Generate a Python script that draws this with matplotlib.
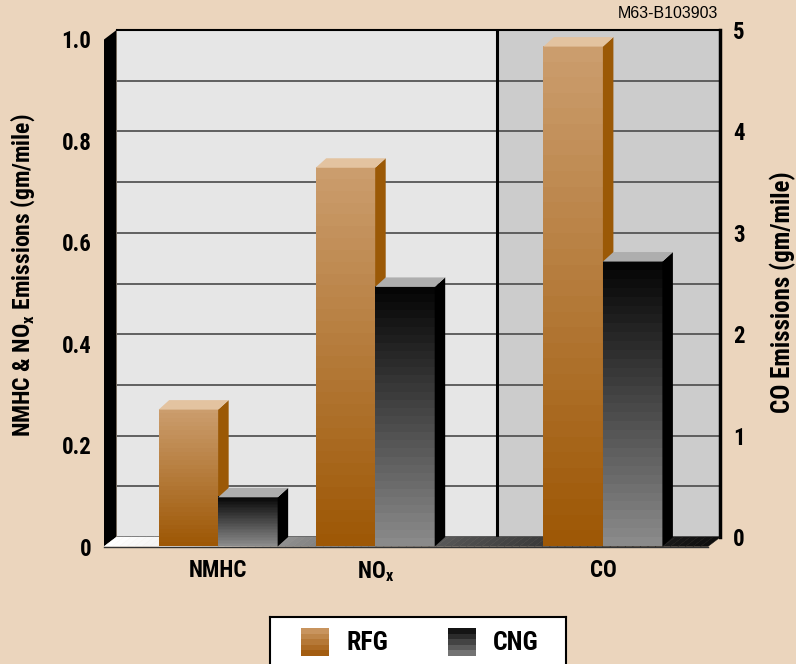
import numpy as np
import matplotlib
matplotlib.use('Agg')
import matplotlib.pyplot as plt
from matplotlib import font_manager as fm
from matplotlib.patches import Polygon

# pick a narrow bold face that is installed
candidates = ['Liberation Sans Narrow', 'Roboto Condensed', 'Archivo Narrow', 'Barlow Semi Condensed',
              'Barlow Condensed', 'Saira SemiCondensed', 'DejaVu Sans']
bold_faces = {f.name for f in fm.fontManager.ttflist if f.weight in (700, 'bold')}
NARROW = next(c for c in candidates if c in bold_faces)

plt.rcParams['font.family'] = [NARROW, 'DejaVu Sans']
plt.rcParams['font.weight'] = 'bold'
plt.rcParams['mathtext.fontset'] = 'custom'
plt.rcParams['mathtext.rm'] = NARROW + ':bold'
plt.rcParams['mathtext.bf'] = NARROW + ':bold'

# data (gm/mile)
categories = ['NMHC', r'NO$_\mathregular{x}$', 'CO']
series = ['RFG', 'CNG']
rfg_vals = [0.27, 0.747]      # NMHC, NOx  -> left axis
cng_vals = [0.097, 0.512]
rfg_co = 4.93                 # CO -> right axis
cng_co = 2.81
left_ticks = [0, 0.2, 0.4, 0.6, 0.8, 1.0]
left_labels = ['0', '0.2', '0.4', '0.6', '0.8', '1.0']
right_ticks = [0, 1, 2, 3, 4, 5]

# layout
W, H = 796, 664
BG = '#EBD5BD'
centers = [1.89, 4.49, 8.26]
bar_w = 0.985
divider = 6.30
WALL = (12.5, 9.5)
BAR = (10.5, 9.5)
RFG_TOP, RFG_BOT, RFG_SIDE, RFG_CAP = (203, 157, 109), (158, 88, 6), '#9B5906', '#E3C3A0'
CNG_TOP, CNG_BOT, CNG_SIDE, CNG_CAP = (5, 5, 5), (138, 138, 138), '#000000', '#AEAEAE'


def px_box(x, ytop, w, h):
    return [x / W, (H - ytop - h) / H, w / W, h / H]


def offset(axis, dx_px, dy_px):
    x0, x1 = axis.get_xlim()
    y0, y1 = axis.get_ylim()
    return dx_px * (x1 - x0) / axis.bbox.width, dy_px * (y1 - y0) / axis.bbox.height


def gradient(top, bottom, n):
    t = np.linspace(0, 1, n)[:, None, None]
    return ((1 - t) * np.array(top) + t * np.array(bottom)) / 255.0


def bar3d(axis, x0, value, top_rgb, bot_rgb, side, cap, z):
    dx, dy = offset(axis, *BAR)
    x1 = x0 + bar_w
    axis.imshow(gradient(top_rgb, bot_rgb, 32), extent=(x0, x1, 0, value),
                aspect='auto', interpolation='nearest', zorder=z)
    axis.add_patch(Polygon([(x1, 0), (x1, value), (x1 + dx, value + dy), (x1 + dx, dy)],
                           fc=side, ec='none', zorder=z, clip_on=False))
    axis.add_patch(Polygon([(x0, value), (x1, value), (x1 + dx, value + dy), (x0 + dx, value + dy)],
                           fc=cap, ec='none', zorder=z, clip_on=False))


fig = plt.figure(figsize=(W / 100, H / 100), dpi=100, facecolor=BG)

# back wall
ax_back = fig.add_axes(px_box(116.5, 30, 604, 507), zorder=0)
ax_back.set_xlim(0, 10)
ax_back.set_ylim(0, 5)
ax_back.set_facecolor('none')
ax_back.axvspan(0, divider, color='#E6E6E6', zorder=0.5)
ax_back.axvspan(divider, 10, color='#CCCCCC', zorder=0.5)
ax_back.axvline(divider, color='black', lw=2.2, zorder=2)
ax_back.set_yticks(np.arange(0, 5.01, 0.5), minor=True)
ax_back.yaxis.grid(True, which='both', color='#555555', lw=1.3)
ax_back.set_xticks([])
ax_back.yaxis.tick_right()
ax_back.set_yticks(right_ticks)
ax_back.tick_params(axis='y', which='both', length=0, pad=9, labelsize=16.5)
for s in ['left', 'bottom']:
    ax_back.spines[s].set_visible(False)
ax_back.spines['top'].set_linewidth(1.5)
ax_back.spines['right'].set_linewidth(2.5)

# front plane
ax = fig.add_axes(px_box(104, 39.5, 604, 507), zorder=1)
ax.set_xlim(0, 10)
ax.set_ylim(0, 1)
ax.autoscale(False)
ax.set_facecolor('none')
for s in ax.spines.values():
    s.set_visible(False)

ax_co = ax.twinx()
ax_co.set_ylim(0, 5)
ax_co.autoscale(False)
ax_co.axis('off')

# left wall and floor
dxw, dyw = offset(ax, *WALL)
ax.add_patch(Polygon([(0, 0), (0, 1), (dxw, 1 + dyw), (dxw, dyw)], fc='black', ec='none',
                     zorder=1, clip_on=False))
xs = np.linspace(0, 10, 81)
for a, b in zip(xs[:-1], xs[1:]):
    t = (a + b) / 20
    g = np.interp(t, [0, 0.1, 0.3, 0.6, 1.0], [1.0, 0.95, 0.55, 0.3, 0.05])
    ax.add_patch(Polygon([(a, 0), (b, 0), (b + dxw, dyw), (a + dxw, dyw)], fc=(g, g, g),
                         ec=(g, g, g), lw=0.3, zorder=1.2, clip_on=False))
ax.plot([0, 10], [0, 0], color='#333333', lw=1, zorder=1.5, clip_on=False)

# bars
for i in range(2):
    bar3d(ax, centers[i] - bar_w, rfg_vals[i], RFG_TOP, RFG_BOT, RFG_SIDE, RFG_CAP, 3)
    bar3d(ax, centers[i], cng_vals[i], CNG_TOP, CNG_BOT, CNG_SIDE, CNG_CAP, 4)
bar3d(ax_co, centers[2] - bar_w, rfg_co, RFG_TOP, RFG_BOT, RFG_SIDE, RFG_CAP, 3)
bar3d(ax_co, centers[2], cng_co, CNG_TOP, CNG_BOT, CNG_SIDE, CNG_CAP, 4)

ax.set_xlim(0, 10)
ax.set_ylim(0, 1)
ax_co.set_ylim(0, 5)

ax.set_yticks(left_ticks, left_labels)
ax.set_xticks(centers, categories)
ax.tick_params(axis='y', length=0, pad=9, labelsize=16.5)
ax.tick_params(axis='x', length=0, pad=9, labelsize=16.5)

# axis titles
fig.text(23 / W, 1 - 275 / H, r'NMHC & NO$_\mathregular{x}$ Emissions (gm/mile)',
         rotation=90, ha='center', va='center', fontsize=17)
fig.text(783 / W, 1 - 292 / H, 'CO Emissions (gm/mile)',
         rotation=90, ha='center', va='center', fontsize=18)
fig.text(718 / W, 1 - 14 / H, 'M63-B103903', ha='right', va='center',
         fontsize=11.5, family='Liberation Sans', weight='normal')

# legend
lg = fig.add_axes(px_box(270, 617, 296, 60), zorder=2)
lg.set_xlim(0, 296)
lg.set_ylim(60, 0)
lg.set_facecolor('white')
lg.set_xticks([])
lg.set_yticks([])
for s in lg.spines.values():
    s.set_linewidth(1.5)
swatches = [((200, 148, 94), (163, 93, 17)), ((20, 20, 20), (115, 115, 115))]
for x_sw, x_txt, name, (c0, c1) in zip([31, 178], [76, 223], series, swatches):
    lg.imshow(gradient(c0, c1, 5), extent=(x_sw, x_sw + 28, 39, 11), aspect='auto',
              interpolation='nearest')
    lg.text(x_txt, 25.5, name, ha='left', va='center', fontsize=18.5)
lg.set_xlim(0, 296)
lg.set_ylim(60, 0)

fig.savefig('out.png', dpi=100, facecolor=BG)
